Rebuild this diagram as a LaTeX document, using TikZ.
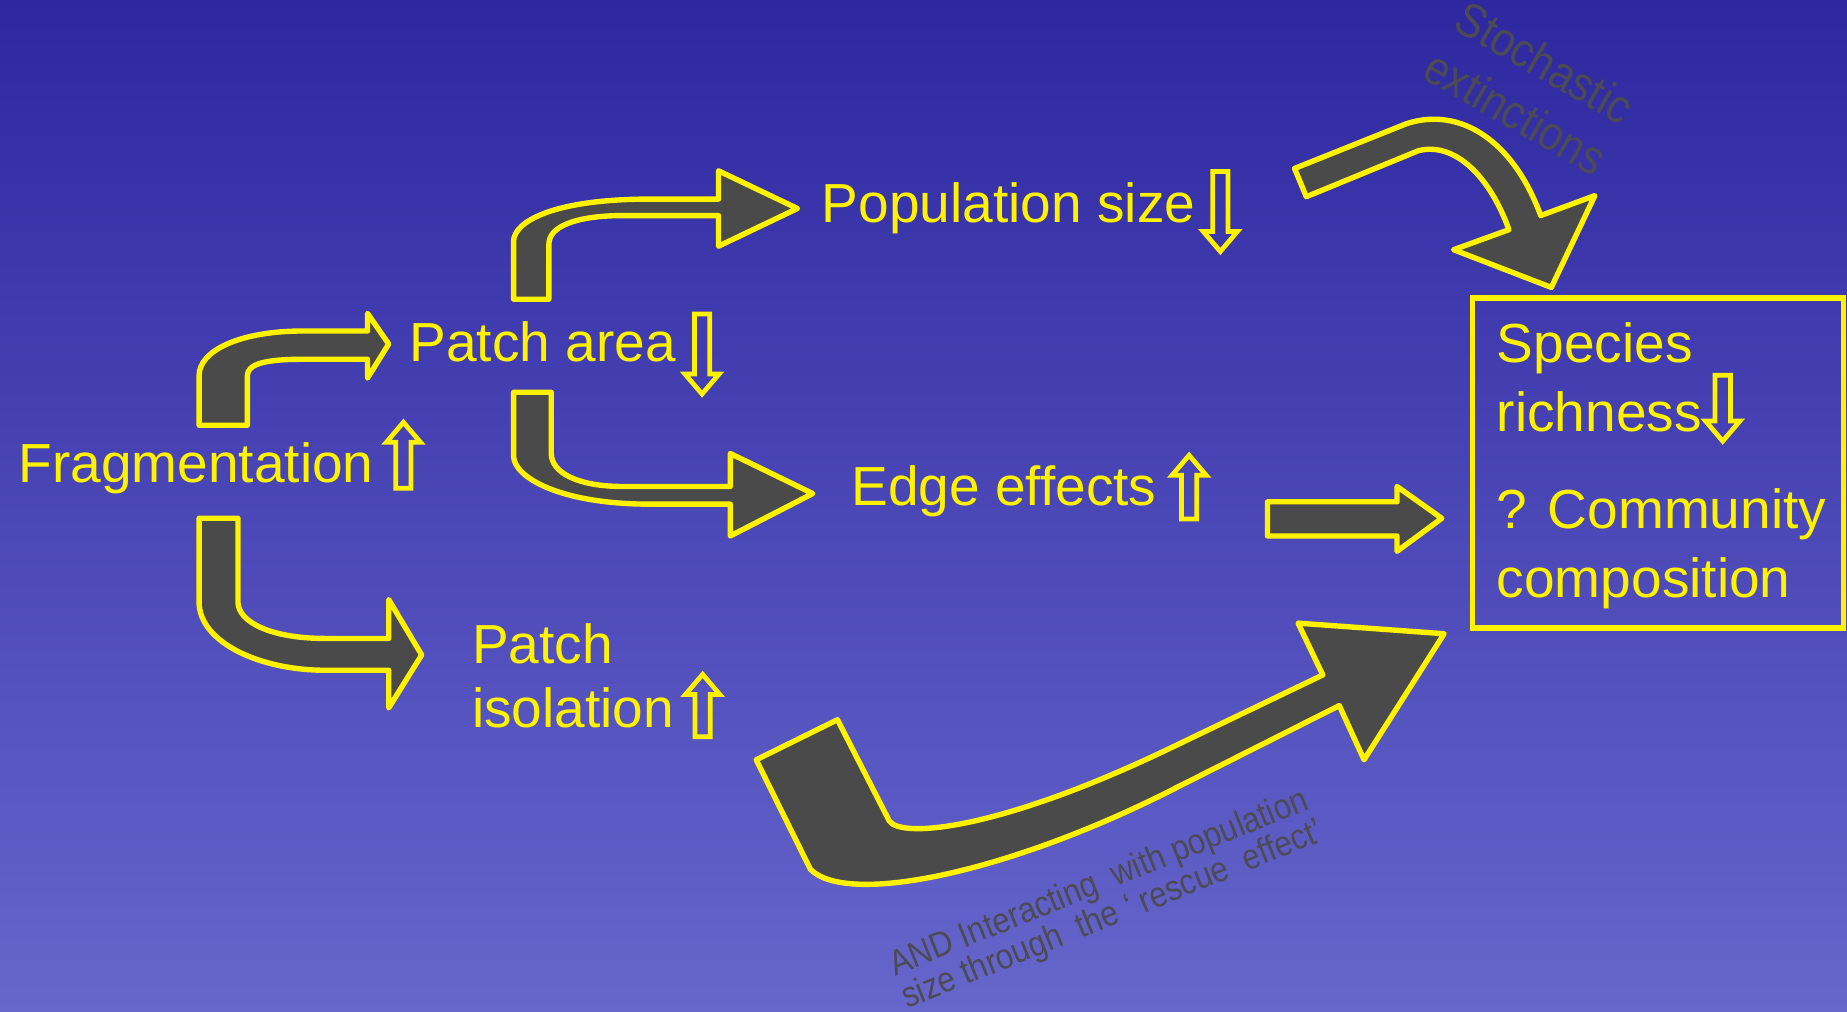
\documentclass[tikz,border=0pt]{standalone}
\usepackage{fontspec}
\setmainfont{Liberation Sans}
\newfontfamily\narrowsans[FakeStretch=0.88]{Liberation Sans}
\usepackage{tikz}
\usetikzlibrary{calc, positioning}
\definecolor{bgtop}{RGB}{46,39,160}
\definecolor{bgbot}{RGB}{102,102,204}
\definecolor{arrowgray}{RGB}{74,74,74}
\definecolor{notegray}{RGB}{75,75,84}
\tikzset{
    bigarrow/.style={draw=yellow, line width=1.3pt, fill=arrowgray, line join=round},
    hollow/.style={draw=yellow, line width=1.15pt, line join=miter},
    txt/.style={anchor=base west, inner sep=0pt, text=yellow, font=\fontsize{13.3}{16}\selectfont},
    note/.style={inner sep=0pt, text=notegray, align=center},
    frame/.style={draw=yellow, line width=1.4pt},
    pics/updown/.style={code={
        \draw[hollow] (-6.5,#1) -- (-6.5,-#1+17) -- (-14.5,-#1+17) -- (0,-#1) -- (14.5,-#1+17) -- (6.5,-#1+17) -- (6.5,#1) -- cycle;
    }}
}

\begin{document}
\begin{tikzpicture}[x=0.1mm, y=-0.1mm]
    % Background
    \useasboundingbox (0,0) rectangle (1568,859);
    \clip (0,0) rectangle (1568,859);
    \shade[top color=bgtop, bottom color=bgbot] (0,0) rectangle (1568,859);

    % Labels
    \node[txt] (frag) at (15,410) {Fragmentation};
    \node[txt] (parea) at (347,307) {Patch area};
    \node[txt] (psize) at (697,189) {Population size};
    \node[txt] (edge) at (722,429) {Edge effects};
    \node[txt] (patch) at (400,563) {Patch};
    \node[txt] (iso) at (400,618) {isolation};
    \node[txt] (species) at (1270,308) {Species};
    \node[txt] (rich) at (1270,366) {richness};
    \node[txt] (comm) at (1270,449) {? Community};
    \node[txt] (comp) at (1270,507) {composition};

    % Up and down marks
    \pic at (342.5,386.5) {updown=28};
    \pic[rotate=180] at (596,300.5) {updown=34};
    \pic[rotate=180] at (1036,179.5) {updown=34};
    \pic at (1009.5,413.5) {updown=27};
    \pic at (596.5,599) {updown=26.5};
    \pic[rotate=180] at (1462.5,346.5) {updown=28};

    % Block arrows
    \draw[bigarrow] (169,361) -- (169,319) .. controls (169,297) and (205,281) .. (257,281)
        -- (312,281) -- (312,266) -- (330,292) -- (312,321) -- (312,305) -- (257,305)
        .. controls (225,305) and (210,309) .. (210,319) -- (210,361) -- cycle;
    \draw[bigarrow] (436,254) -- (436,205) .. controls (436,188) and (470,169) .. (552,169)
        -- (610,169) -- (610,145) -- (677,177) -- (610,209) -- (610,183) -- (529,183)
        .. controls (490,183) and (466,192) .. (466,207) -- (466,254) -- cycle;
    \draw[bigarrow] (436,333) -- (436,387) .. controls (436,405) and (475,428) .. (552,428)
        -- (620,428) -- (620,455) -- (690,419) -- (620,385) -- (620,413) -- (529,413)
        .. controls (490,413) and (468,401) .. (468,385) -- (468,333) -- cycle;
    \draw[bigarrow] (169,440) -- (169,511) .. controls (169,545) and (220,569) .. (276,569)
        -- (330,569) -- (330,601) -- (358,556) -- (330,509) -- (330,542) -- (276,542)
        .. controls (230,542) and (202,528) .. (202,511) -- (202,440) -- cycle;
    \draw[bigarrow] (1099,143) -- (1194,105) .. controls (1240,90) and (1285,120) .. (1308,183)
        -- (1354,166) -- (1317,244) -- (1234,212) -- (1281,195)
        .. controls (1265,150) and (1235,120) .. (1204,128) -- (1109,167) -- cycle;
    \draw[bigarrow] (1076,426) -- (1186,426) -- (1186,413) -- (1224,440) -- (1186,468)
        -- (1186,455) -- (1076,455) -- cycle;
    \draw[bigarrow] (642,645) -- (711,611) -- (755,697) .. controls (765,712) and (850,705) .. (1000,632)
        -- (1123,573) -- (1102,529) -- (1226,538) -- (1158,645) -- (1137,599) -- (1000,668)
        .. controls (860,740) and (720,770) .. (688,738) -- cycle;

    % Result box
    \draw[frame] (1250,253) rectangle (1565,533);

    % Side notes
    \node[note, rotate=-30, font=\narrowsans\fontsize{11.6}{14}\selectfont] (stoch) at (1299,74) {Stochastic\\extinctions};
    \node[note, rotate=22, font=\narrowsans\fontsize{8.6}{8.4}\selectfont] (rescue) at (939,764)
        {AND Interacting\ \ with population\\size through\ \ the ‘ rescue\ \ effect’};
\end{tikzpicture}
\end{document}
